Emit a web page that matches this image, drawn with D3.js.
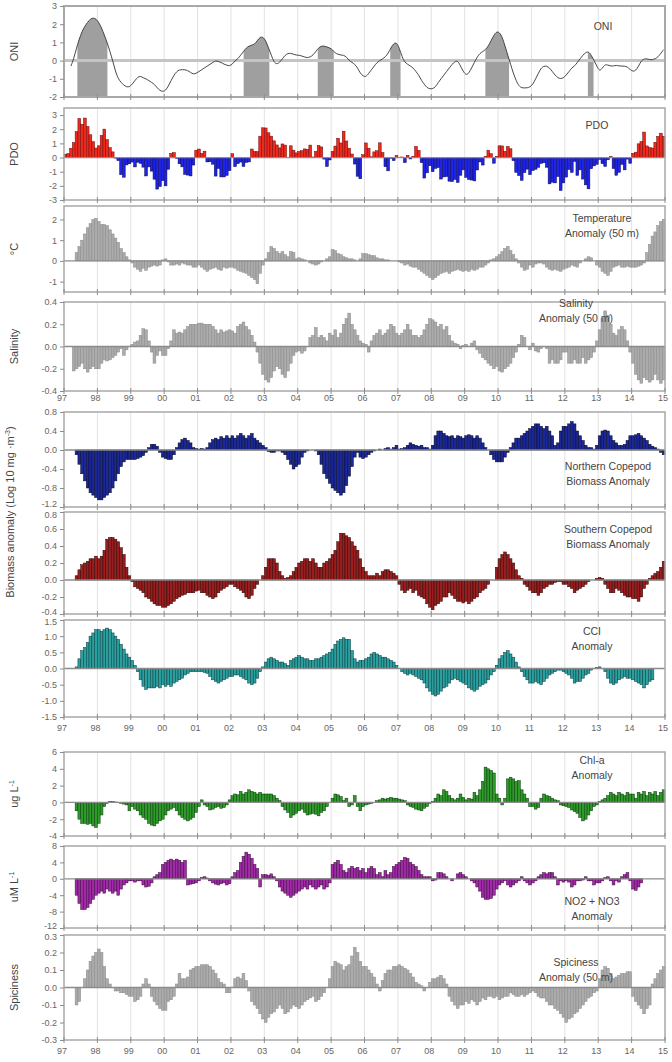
<!DOCTYPE html>
<html>
<head>
<meta charset="utf-8">
<script src="https://cdn.jsdelivr.net/npm/d3@7"></script>
<style>
body { margin: 0; background: #fff; }
svg text { font-family: "Liberation Sans", Arial, sans-serif; fill: #555; }
</style>
</head>
<body>
<div id="chart"></div>
<script>
// monthly values, Jan 1997 .. Dec 2014 (12 per row), null = no sample
var years = d3.range(1997, 2016);

var oniValues = [
  null, null, -0.3, 0.1, 0.7, 1.2, 1.6, 1.9, 2.1, 2.3, 2.35, 2.3,
  2.1, 1.8, 1.4, 1.0, 0.5, 0.0, -0.6, -1.0, -1.2, -1.35, -1.45, -1.45,
  -1.3, -1.1, -0.9, -0.85, -0.95, -1.0, -1.1, -1.2, -1.3, -1.5, -1.65, -1.7,
  -1.65, -1.4, -1.1, -0.8, -0.6, -0.5, -0.5, -0.5, -0.55, -0.65, -0.75, -0.7,
  -0.6, -0.5, -0.4, -0.3, -0.2, -0.1, 0.0, -0.05, -0.1, -0.2, -0.25, -0.3,
  -0.2, 0.0, 0.1, 0.3, 0.5, 0.7, 0.8, 0.85, 0.9, 1.1, 1.3, 1.3,
  1.1, 0.7, 0.3, -0.1, -0.2, -0.1, 0.1, 0.3, 0.4, 0.4, 0.35, 0.3,
  0.3, 0.25, 0.2, 0.15, 0.2, 0.3, 0.5, 0.7, 0.8, 0.8, 0.75, 0.7,
  0.6, 0.4, 0.35, 0.3, 0.3, 0.2, 0.0, -0.1, -0.2, -0.4, -0.7, -0.85,
  -0.9, -0.7, -0.5, -0.3, -0.1, 0.0, 0.1, 0.2, 0.4, 0.7, 0.95, 1.0,
  0.7, 0.2, -0.1, -0.2, -0.3, -0.4, -0.6, -0.8, -1.1, -1.3, -1.5, -1.55,
  -1.55, -1.45, -1.2, -1.0, -0.8, -0.6, -0.4, -0.2, -0.05, 0.0, -0.3, -0.6,
  -0.8, -0.7, -0.4, -0.1, 0.2, 0.4, 0.5, 0.6, 0.8, 1.1, 1.4, 1.6,
  1.55, 1.3, 0.8, 0.3, -0.2, -0.7, -1.1, -1.4, -1.5, -1.5, -1.5, -1.45,
  -1.3, -1.0, -0.7, -0.4, -0.3, -0.3, -0.4, -0.6, -0.8, -0.95, -1.0, -0.95,
  -0.8, -0.6, -0.4, -0.3, -0.1, 0.1, 0.3, 0.45, 0.5, 0.3, 0.0, -0.3,
  -0.6, -0.4, -0.2, -0.25, -0.3, -0.3, -0.25, -0.3, -0.3, -0.3, -0.35, -0.5,
  -0.6, -0.55, -0.3, 0.0, 0.1, 0.1, 0.05, 0.05, 0.1, 0.2, 0.4, 0.6
];

// El Nino periods shaded under the ONI curve
var oniEvents = [[1997.4, 1998.3], [2002.38, 2003.15], [2004.6, 2005.08],
                 [2006.77, 2007.08], [2009.62, 2010.33], [2012.69, 2012.86]];

var pdoValues = [
  0.23, 0.28, 0.65, 1.05, 1.83, 2.76, 2.35, 2.79, 2.19, 1.61, 1.12, 0.67,
  0.83, 1.56, 2.01, 1.27, 0.70, 0.40, -0.04, -0.22, -1.21, -1.39, -0.52, -0.44,
  -0.32, -0.66, -0.33, -0.41, -0.68, -1.30, -0.66, -0.96, -1.53, -2.23, -2.05, -1.63,
  -2.00, -0.83, 0.29, 0.35, -0.05, -0.44, -0.66, -1.19, -1.24, -1.30, -0.53, 0.52,
  0.60, 0.29, 0.45, -0.31, -0.30, -0.47, -1.31, -0.77, -1.37, -1.37, -1.26, -0.93,
  0.27, -0.64, -0.43, -0.32, -0.63, -0.35, -0.31, 0.60, 0.43, 0.42, 1.51, 2.10,
  2.09, 1.75, 1.51, 1.18, 0.89, 0.68, 0.96, 0.88, 0.01, 0.83, 0.52, 0.33,
  0.43, 0.48, 0.61, 0.57, 0.88, 0.04, 0.44, 0.85, 0.75, -0.11, -0.63, -0.17,
  0.44, 0.81, 1.36, 1.03, 1.86, 1.17, 0.66, 0.25, -0.46, -1.32, -1.50, 0.20,
  1.03, 0.66, 0.05, 0.40, 0.48, 1.04, 0.35, -0.65, -0.94, -0.05, -0.22, 0.14,
  0.01, 0.04, -0.36, 0.16, -0.10, 0.09, 0.78, 0.50, -0.36, -1.45, -1.08, -0.58,
  -1.00, -0.77, -0.71, -1.52, -1.37, -1.34, -1.67, -1.70, -1.55, -1.76, -1.25, -0.87,
  -1.40, -1.55, -1.59, -1.65, -0.88, -0.31, -0.53, 0.09, 0.52, 0.27, -0.40, 0.08,
  0.83, 0.82, 0.44, 0.78, 0.62, -0.22, -1.05, -1.27, -1.61, -1.06, -0.82, -1.21,
  -0.92, -0.83, -0.69, -0.42, -0.37, -0.69, -1.86, -1.74, -1.79, -1.34, -2.33, -1.79,
  -1.38, -0.85, -1.05, -0.27, -1.26, -0.87, -1.52, -1.93, -2.21, -0.79, -0.59, -0.48,
  -0.13, -0.43, -0.63, -0.16, 0.08, -0.78, -1.25, -1.04, -0.48, -0.87, -0.11, -0.41,
  0.30, 0.38, 0.97, 1.13, 1.80, 0.82, 0.70, 0.67, 1.08, 1.49, 1.72, 1.50
];

var tempValues = [
  null, null, null, null, 0.4, 0.7, 1.0, 1.3, 1.6, 1.8, 2.0, 2.05,
  1.9, 1.75, 1.75, 1.7, 1.5, 1.3, 1.1, 0.9, 0.6, 0.4, 0.2, 0.05,
  -0.1, -0.3, -0.4, -0.5, -0.35, -0.45, -0.3, -0.25, -0.2, -0.25, -0.2, 0.05,
  0.1, -0.05, -0.2, -0.2, -0.15, -0.2, -0.1, -0.15, -0.2, -0.2, -0.3, -0.3,
  -0.2, -0.3, -0.4, -0.5, -0.4, -0.35, -0.3, -0.4, -0.45, -0.3, -0.35, -0.3,
  -0.3, -0.35, -0.45, -0.5, -0.55, -0.6, -0.7, -0.8, -0.9, -1.1, -0.6, -0.2,
  0.1, 0.4, 0.7, 0.6, 0.45, 0.35, 0.45, 0.3, 0.2, 0.45, 0.4, 0.1,
  0.15, 0.1, 0.05, 0.0, -0.1, -0.15, -0.2, -0.15, -0.05, 0.0, 0.1, 0.2,
  0.55, 0.5, 0.35, 0.3, 0.2, 0.15, 0.1, 0.1, 0.05, 0.0, 0.1, 0.35,
  0.35, 0.3, 0.25, 0.25, 0.15, 0.1, 0.1, 0.05, 0.05, 0.0, 0.0, 0.0,
  -0.05, -0.1, -0.2, -0.15, -0.25, -0.3, -0.3, -0.4, -0.5, -0.6, -0.7, -0.8,
  -0.9, -0.8, -0.7, -0.6, -0.55, -0.5, -0.6, -0.5, -0.45, -0.4, -0.45, -0.5,
  -0.45, -0.5, -0.4, -0.45, -0.4, -0.3, -0.3, -0.2, -0.1, 0.05, 0.1, 0.2,
  0.3, 0.45, 0.6, 0.7, 0.5, 0.3, 0.1, -0.1, -0.3, -0.45, -0.4, -0.2,
  -0.3, -0.15, -0.1, -0.1, -0.15, -0.3, -0.4, -0.45, -0.4, -0.45, -0.5, -0.4,
  -0.35, -0.3, -0.2, -0.25, -0.3, -0.1, 0.0, 0.1, 0.2, 0.15, 0.0, -0.2,
  -0.3, -0.5, -0.6, -0.7, -0.5, -0.3, -0.25, -0.2, -0.3, -0.3, -0.25, -0.3,
  -0.3, -0.3, -0.25, -0.2, -0.1, 0.4, 0.8, 1.2, 1.4, 1.7, 1.9, 2.0
];

var salValues = [
  null, null, null, -0.22, -0.2, -0.18, -0.15, -0.2, -0.23, -0.2, -0.18, -0.2,
  -0.2, -0.15, -0.12, -0.13, -0.12, -0.1, -0.08, -0.05, -0.02, -0.08, -0.03, 0.0,
  0.02, 0.04, 0.05, 0.1, 0.16, 0.15, 0.05, -0.05, -0.15, -0.08, -0.04, -0.08,
  -0.08, -0.02, 0.05, 0.15, 0.12, 0.13, 0.12, 0.15, 0.18, 0.2, 0.2, 0.2,
  0.21, 0.21, 0.2, 0.2, 0.2, 0.18, 0.15, 0.12, 0.15, 0.13, 0.14, 0.15,
  0.14, 0.12, 0.18, 0.2, 0.22, 0.18, 0.15, 0.1, 0.04, -0.05, -0.15, -0.25,
  -0.3, -0.32, -0.28, -0.22, -0.18, -0.2, -0.25, -0.28, -0.22, -0.15, -0.08, -0.05,
  -0.04, -0.06, -0.04, 0.0, 0.08, 0.1, 0.17, 0.08, 0.1, 0.08, 0.05, 0.12,
  0.1, 0.15, 0.08, 0.12, 0.2, 0.25, 0.3, 0.2, 0.15, 0.1, 0.05, 0.03,
  0.02, -0.05, 0.05, 0.1, 0.12, 0.15, 0.1, 0.12, 0.15, 0.2, 0.18, 0.12,
  0.1, 0.12, 0.15, 0.2, 0.15, 0.1, 0.1, 0.08, 0.1, 0.15, 0.2, 0.25,
  0.24, 0.22, 0.18, 0.2, 0.15, 0.18, 0.1, 0.05, 0.03, 0.02, -0.02, 0.01,
  0.02, 0.0, 0.03, 0.05, -0.03, -0.06, -0.1, -0.12, -0.15, -0.17, -0.2, -0.18,
  -0.22, -0.23, -0.2, -0.18, -0.15, -0.1, -0.05, 0.02, 0.1, 0.08, 0.0, -0.03,
  0.03, -0.04, -0.05, -0.02, 0.0, -0.02, -0.15, -0.12, -0.15, -0.15, -0.12, -0.05,
  -0.05, -0.15, -0.15, -0.12, -0.15, -0.15, -0.1, -0.15, -0.12, -0.1, -0.05, 0.05,
  0.15, 0.25, 0.32, 0.28, 0.2, 0.12, 0.1, 0.15, 0.18, 0.15, 0.05, -0.05,
  -0.15, -0.25, -0.3, -0.33, -0.28, -0.3, -0.32, -0.3, -0.25, -0.3, -0.33, -0.3
];

var northValues = [
  null, null, null, null, -0.1, -0.3, -0.5, -0.65, -0.8, -0.9, -0.95, -1.0,
  -1.05, -1.05, -1.0, -0.95, -0.9, -0.8, -0.65, -0.5, -0.35, -0.25, -0.2, -0.2,
  -0.2, -0.2, -0.18, -0.15, -0.12, -0.05, 0.05, 0.12, 0.12, 0.08, -0.05, -0.15,
  -0.18, -0.2, -0.2, -0.1, 0.05, 0.15, 0.22, 0.25, 0.2, 0.15, 0.05, 0.03,
  0.02, 0.03, 0.02, 0.05, 0.15, 0.22, 0.25, 0.22, 0.28, 0.25, 0.3, 0.25,
  0.3, 0.25, 0.3, 0.35, 0.3, 0.25, 0.3, 0.35, 0.25, 0.2, 0.15, 0.1,
  0.05, -0.03, -0.05, -0.05, -0.02, -0.02, -0.05, -0.1, -0.2, -0.3, -0.4, -0.35,
  -0.3, -0.15, -0.05, -0.02, 0.0, 0.0, -0.02, -0.1, -0.3, -0.5, -0.6, -0.7,
  -0.8, -0.85, -0.9, -0.95, -0.9, -0.75, -0.55, -0.35, -0.15, -0.05, -0.15, -0.18,
  -0.15, -0.1, -0.05, -0.02, 0.0, 0.02, 0.0, 0.03, 0.05, 0.02, 0.05, 0.1,
  0.02, 0.03, 0.05, 0.1, 0.15, 0.12, 0.1, 0.08, 0.1, 0.05, 0.05, 0.02,
  0.1, 0.3, 0.4, 0.4, 0.35, 0.3, 0.28, 0.3, 0.25, 0.3, 0.28, 0.25,
  0.3, 0.32, 0.3, 0.25, 0.3, 0.25, 0.15, 0.05, 0.0, -0.1, -0.2, -0.25,
  -0.25, -0.25, -0.15, -0.05, 0.05, 0.15, 0.25, 0.25, 0.3, 0.35, 0.4, 0.45,
  0.5, 0.55, 0.55, 0.5, 0.45, 0.5, 0.4, 0.3, 0.1, 0.15, 0.4, 0.5,
  0.5, 0.55, 0.6, 0.55, 0.4, 0.3, 0.2, 0.1, 0.05, 0.05, 0.02, 0.1,
  0.3, 0.4, 0.42, 0.4, 0.3, 0.2, 0.15, 0.1, 0.1, 0.12, 0.2, 0.3,
  0.3, 0.32, 0.35, 0.3, 0.25, 0.2, 0.12, 0.08, 0.05, 0.02, -0.05, -0.1
];

var southValues = [
  null, null, null, null, 0.05, 0.12, 0.18, 0.2, 0.22, 0.25, 0.25, 0.28,
  0.25, 0.28, 0.35, 0.48, 0.5, 0.5, 0.48, 0.45, 0.38, 0.3, 0.15, 0.05,
  -0.02, -0.08, -0.1, -0.12, -0.15, -0.2, -0.22, -0.25, -0.28, -0.3, -0.3, -0.32,
  -0.32, -0.3, -0.28, -0.25, -0.22, -0.2, -0.18, -0.17, -0.15, -0.15, -0.15, -0.13,
  -0.12, -0.15, -0.15, -0.18, -0.2, -0.22, -0.2, -0.15, -0.12, -0.1, -0.08, -0.05,
  -0.05, -0.08, -0.1, -0.12, -0.15, -0.2, -0.22, -0.18, -0.1, -0.05, 0.0, 0.05,
  0.15, 0.25, 0.25, 0.25, 0.2, 0.1, 0.05, 0.02, 0.03, 0.05, 0.1, 0.15,
  0.2, 0.22, 0.25, 0.25, 0.22, 0.25, 0.2, 0.15, 0.15, 0.2, 0.22, 0.25,
  0.3, 0.35, 0.45, 0.55, 0.55, 0.52, 0.5, 0.45, 0.4, 0.35, 0.25, 0.15,
  0.1, 0.05, 0.05, 0.05, 0.08, 0.05, 0.1, 0.12, 0.12, 0.1, 0.08, 0.05,
  -0.05, -0.12, -0.15, -0.12, -0.1, -0.15, -0.12, -0.18, -0.2, -0.22, -0.28, -0.32,
  -0.35, -0.3, -0.28, -0.25, -0.2, -0.2, -0.15, -0.18, -0.22, -0.25, -0.25, -0.27,
  -0.25, -0.28, -0.25, -0.22, -0.2, -0.15, -0.12, -0.1, -0.05, 0.0, 0.0, 0.15,
  0.25, 0.3, 0.33, 0.3, 0.25, 0.2, 0.12, 0.05, 0.02, -0.05, -0.08, -0.12,
  -0.15, -0.15, -0.18, -0.15, -0.1, -0.08, -0.05, -0.05, -0.03, -0.02, -0.02, -0.05,
  -0.05, -0.08, -0.1, -0.15, -0.12, -0.1, -0.08, -0.05, -0.02, 0.0, 0.0, 0.02,
  0.03, 0.02, -0.05, -0.1, -0.15, -0.15, -0.1, -0.12, -0.15, -0.18, -0.2, -0.2,
  -0.22, -0.22, -0.25, -0.2, -0.1, -0.05, 0.02, 0.05, 0.08, 0.1, 0.15, 0.22
];

var cciValues = [
  null, null, null, null, 0.05, 0.3, 0.55, 0.65, 0.8, 1.0, 1.1, 1.2,
  1.2, 1.15, 1.2, 1.25, 1.2, 1.1, 1.0, 0.9, 0.75, 0.6, 0.45, 0.35,
  0.25, 0.1, -0.1, -0.35, -0.55, -0.65, -0.6, -0.6, -0.6, -0.55, -0.6, -0.5,
  -0.55, -0.5, -0.55, -0.45, -0.4, -0.35, -0.3, -0.2, -0.15, -0.1, -0.1, -0.1,
  -0.1, -0.1, -0.12, -0.15, -0.25, -0.35, -0.4, -0.45, -0.4, -0.35, -0.3, -0.25,
  -0.25, -0.2, -0.2, -0.25, -0.3, -0.35, -0.45, -0.5, -0.45, -0.3, -0.1, 0.05,
  0.2, 0.3, 0.35, 0.3, 0.25, 0.2, 0.2, 0.15, 0.1, 0.25, 0.3, 0.35,
  0.4, 0.35, 0.3, 0.3, 0.25, 0.25, 0.3, 0.3, 0.35, 0.4, 0.45, 0.5,
  0.6, 0.75, 0.85, 0.9, 0.95, 0.9, 0.9, 0.55, 0.3, 0.2, 0.25, 0.25,
  0.3, 0.35, 0.45, 0.5, 0.45, 0.4, 0.35, 0.35, 0.3, 0.25, 0.2, 0.1,
  0.0, -0.1, -0.15, -0.2, -0.15, -0.2, -0.25, -0.3, -0.35, -0.45, -0.6, -0.7,
  -0.8, -0.85, -0.8, -0.7, -0.6, -0.55, -0.45, -0.35, -0.3, -0.35, -0.4, -0.45,
  -0.5, -0.6, -0.65, -0.7, -0.65, -0.55, -0.5, -0.45, -0.35, -0.2, -0.1, 0.1,
  0.3, 0.4, 0.5, 0.55, 0.45, 0.35, 0.2, 0.05, -0.1, -0.25, -0.35, -0.45,
  -0.45, -0.4, -0.45, -0.5, -0.4, -0.3, -0.2, -0.15, -0.1, -0.05, -0.05, -0.1,
  -0.15, -0.2, -0.3, -0.45, -0.4, -0.4, -0.3, -0.2, -0.15, -0.05, 0.0, 0.03,
  0.05, 0.0, -0.1, -0.3, -0.45, -0.5, -0.45, -0.35, -0.3, -0.25, -0.3, -0.3,
  -0.35, -0.4, -0.45, -0.5, -0.6, -0.5, -0.4, -0.35, null, null, null, null
];

var chlValues = [
  null, null, null, null, -1.0, -2.0, -2.5, -2.5, -2.6, -2.5, -2.8, -3.0,
  -2.5, -1.5, -0.5, -0.1, 0.1, 0.1, 0.05, 0.0, -0.1, -0.2, -0.3, -1.0,
  -0.5, -0.8, -1.0, -1.5, -1.8, -2.0, -2.5, -2.7, -2.8, -2.5, -2.2, -2.0,
  -1.5, -1.0, -0.8, -0.6, -1.0, -1.5, -1.8, -2.0, -2.2, -2.0, -1.8, -1.2,
  -0.5, 0.3, -0.3, -0.5, -0.9, -0.8, -0.6, -0.5, -0.7, -0.6, -0.3, 0.3,
  0.8, 1.0, 0.9, 1.3, 1.0, 1.2, 1.5, 1.3, 1.2, 1.0, 1.2, 1.0,
  1.0, 1.0, 1.0, 0.8, 0.5, 0.2, -0.5, -0.9, -1.2, -1.8, -1.5, -1.3,
  -1.0, -0.8, -1.2, -1.5, -1.4, -1.3, -1.4, -1.6, -1.2, -1.0, -0.5, 0.0,
  0.5, 1.0, 0.9, 0.7, 0.2, 0.5, -0.5, -0.3, 0.8, -0.5, -1.0, -0.5,
  -0.3, -0.2, -0.1, 0.0, 0.2, 0.3, 0.5, 0.4, 0.5, 0.6, 0.5, 0.5,
  0.4, 0.3, 0.2, -0.3, -0.5, -0.6, -0.8, -0.9, -1.0, -0.7, -0.5, -0.1,
  0.1, 0.5, 1.0, 0.8, 1.5, 1.3, 0.8, 0.5, 0.3, 0.5, 1.0, 0.6,
  0.3, 0.5, 0.4, 1.2, 0.8, 1.5, 2.5, 4.2, 4.0, 3.8, 3.5, 1.0,
  0.5, -0.3, 0.5, 2.8, 3.0, 2.8, 2.5, 2.6, 1.5, 1.0, 0.5, -0.5,
  -0.5, -0.8, -0.6, 0.5, 1.0, 0.8, 0.7, 0.5, 0.3, 0.2, -0.3, -0.4,
  -0.5, -0.6, -0.9, -1.1, -1.3, -1.8, -2.2, -2.0, -1.5, -1.0, -0.5, -0.3,
  0.1, 0.3, 0.5, 0.8, 1.2, 1.0, 0.8, 1.2, 1.0, 0.8, 1.2, 1.0,
  1.0, 0.5, 1.2, 1.0, 1.3, 0.8, 1.2, 1.0, 1.3, 0.8, 1.2, 1.5
];

var no3Values = [
  null, null, null, null, -4.0, -6.0, -7.5, -7.5, -7.0, -6.0, -5.0, -4.0,
  -3.5, -3.0, -3.5, -2.5, -3.0, -3.5, -3.0, -4.0, -2.5, -1.5, -1.0, -0.5,
  -0.5, -0.8, -0.5, -0.5, -1.5, -2.0, -1.8, -1.0, 0.5, 1.0, 1.5, 3.5,
  4.0, 4.5, 4.8, 4.5, 4.8, 4.5, 4.0, 4.5, -1.5, -1.3, -1.2, -1.0,
  -0.5, 0.3, 0.5, 0.2, -0.5, -1.0, -1.3, -1.5, -1.2, -1.0, -1.5, -1.2,
  0.5, 1.5, 2.0, 4.0, 5.5, 6.5, 6.0, 5.0, 3.5, 2.5, -2.0, 1.0,
  1.0, 0.8, 1.2, 0.5, -0.5, -2.0, -3.0, -3.5, -4.0, -4.5, -4.0, -3.5,
  -3.0, -2.5, -2.0, -2.5, -1.5, -2.0, -2.5, -2.0, -1.5, -2.5, -2.0, -1.0,
  3.5, 4.0, 4.5, 3.5, 2.0, 1.5, 2.5, 3.0, 2.5, 2.8, 2.0, 2.5,
  1.5, 2.5, 3.0, 2.5, 1.0, 1.5, 0.5, 2.0, 1.0, 1.5, 3.0, 3.5,
  4.0, 4.5, 5.2, 5.0, 4.0, 3.5, 3.0, 2.0, 1.0, 0.5, 0.5, 0.5,
  -0.5, -0.3, 1.5, 1.5, 1.2, 0.5, 0.0, -0.5, 0.0, 1.2, 1.5, 1.0,
  0.5, 0.0, -0.5, -1.0, -2.0, -3.0, -4.5, -5.0, -5.0, -4.8, -4.0, -2.5,
  -1.5, -1.0, -0.5, -1.5, -2.0, -1.5, -1.0, -0.5, 0.5, -0.5, -1.0, -1.5,
  -1.0, -0.5, 0.5, 1.0, 1.5, 1.2, 1.5, 1.5, 0.5, -1.5, -0.5, -0.8,
  -0.5, -0.8, -2.0, -1.5, -0.5, -0.5, -0.3, 0.5, -0.5, -0.5, -1.5, -1.0,
  -1.0, -0.5, 0.3, 0.5, -0.5, -1.5, -0.5, -0.8, 0.5, 1.0, 1.5, -0.5,
  -2.5, -2.8, -2.0, -1.0, null, null, null, null, null, null, null, null
];

var spiceValues = [
  null, null, null, null, -0.1, -0.08, 0.0, 0.05, 0.1, 0.15, 0.18, 0.2,
  0.22, 0.2, 0.12, 0.05, 0.02, 0.0, -0.02, -0.02, -0.03, -0.03, -0.04, -0.05,
  -0.05, -0.08, -0.07, -0.05, 0.02, 0.05, 0.02, -0.05, -0.08, -0.1, -0.12, -0.13,
  -0.13, -0.08, -0.07, -0.05, 0.02, 0.08, 0.05, 0.05, 0.06, 0.1, 0.11, 0.12,
  0.12, 0.13, 0.13, 0.13, 0.12, 0.1, 0.08, 0.05, 0.03, 0.02, -0.03, -0.03,
  0.0, 0.05, 0.06, 0.05, 0.08, 0.04, -0.02, -0.08, -0.1, -0.12, -0.15, -0.18,
  -0.2, -0.17, -0.15, -0.14, -0.12, -0.1, -0.12, -0.15, -0.14, -0.12, -0.1, -0.11,
  -0.12, -0.1, -0.08, -0.07, -0.06, -0.05, -0.08, -0.07, -0.05, -0.03, 0.0, 0.05,
  0.12, 0.15, 0.14, 0.13, 0.1, 0.12, 0.13, 0.18, 0.23, 0.2, 0.15, 0.12,
  0.12, 0.1, 0.08, 0.06, 0.02, -0.02, 0.04, 0.08, 0.1, 0.1, 0.12, 0.12,
  0.13, 0.12, 0.11, 0.1, 0.08, 0.06, 0.03, 0.02, 0.01, -0.02, 0.0, 0.03,
  0.05, 0.05, 0.06, 0.07, 0.05, 0.02, -0.05, -0.08, -0.1, -0.12, -0.1, -0.1,
  -0.08, -0.09, -0.07, -0.08, -0.1, -0.08, -0.06, -0.07, -0.05, -0.05, -0.06, -0.05,
  -0.07, -0.06, -0.05, -0.05, -0.03, -0.04, -0.05, -0.05, -0.04, -0.05, -0.04, -0.03,
  -0.02, -0.03, -0.05, -0.06, -0.06, -0.08, -0.1, -0.1, -0.12, -0.13, -0.15, -0.17,
  -0.2, -0.18, -0.17, -0.15, -0.14, -0.12, -0.1, -0.08, -0.06, -0.05, -0.03, -0.02,
  0.05, 0.1, 0.12, 0.11, 0.08, 0.05, 0.06, 0.07, 0.08, 0.08, 0.09, 0.09,
  -0.05, -0.08, -0.1, -0.12, -0.15, -0.12, -0.1, 0.02, 0.05, 0.08, 0.1, 0.12
];

var svgWidth = 672;
var svgHeight = 1062;
var xLeft = 64, xRight = 665;

var svg = d3.select('#chart').append('svg')
    .attr('width', svgWidth)
    .attr('height', svgHeight);

var x = d3.scaleLinear().domain([1997, 2015]).range([xLeft, xRight]);
var monthW = x(1997 + 1 / 12) - x(1997);

// panel layout and style (topShift / botShift nudge the end tick labels apart)
var panels = [
  {values: oniValues, kind: 'line', top: 6, bottom: 97, domain: [-2, 3], step: 1, dec: 0,
   title: ['ONI'], tx: 603, ty: 30, ylab: 'ONI'},
  {values: pdoValues, kind: 'bar', top: 108, bottom: 200, domain: [-3, 3.5], tickMax: 3, step: 1, dec: 0,
   pos: '#ee2a1e', neg: '#1f24e6', stroke: '#6a0a0a', negStroke: '#0a0a5a',
   title: ['PDO'], tx: 597, ty: 129, ylab: 'PDO'},
  {values: tempValues, kind: 'bar', top: 206, bottom: 292, domain: [-1.5, 2.65], tickMin: -1, tickMax: 2, step: 1, dec: 0,
   pos: '#ababab', neg: '#ababab', stroke: '#8a8a8a',
   title: ['Temperature', 'Anomaly (50 m)'], tx: 602, ty: 222, ylab: '\u00b0C'},
  {values: salValues, kind: 'bar', top: 302, bottom: 391, domain: [-0.4, 0.4], step: 0.2, dec: 1,
   pos: '#ababab', neg: '#ababab', stroke: '#8a8a8a',
   title: ['Salinity', 'Anomaly (50 m)'], tx: 576, ty: 307, ylab: 'Salinity'},
  {values: northValues, kind: 'bar', top: 412, bottom: 507, domain: [-1.2, 0.8], step: 0.4, dec: 1,
   pos: '#1c2896', neg: '#1c2896', stroke: '#05082a', botShift: -3,
   title: ['Northern Copepod', 'Biomass Anomaly'], tx: 608, ty: 470},
  {values: southValues, kind: 'bar', top: 512, bottom: 614, domain: [-0.4, 0.8], step: 0.2, dec: 1,
   pos: '#9a1e1e', neg: '#9a1e1e', stroke: '#2a0505', topShift: 3, botShift: -2,
   title: ['Southern Copepod', 'Biomass Anomaly'], tx: 608, ty: 533},
  {values: cciValues, kind: 'bar', top: 620, bottom: 717, domain: [-1.5, 1.5], step: 0.5, dec: 1,
   pos: '#2a9fa0', neg: '#2a9fa0', stroke: '#0a3a3a', topShift: 2,
   title: ['CCI', 'Anomaly'], tx: 592, ty: 635},
  {values: chlValues, kind: 'bar', top: 752, bottom: 836, domain: [-4, 6], step: 2, dec: 0,
   pos: '#2e9a2a', neg: '#2e9a2a', stroke: '#0a3a0a',
   title: ['Chl-a', 'Anomaly'], tx: 592, ty: 764, ylab: 'ug L', sup: '-1'},
  {values: no3Values, kind: 'bar', top: 846, bottom: 928, domain: [-12, 8], step: 4, dec: 0,
   pos: '#a02aa8', neg: '#a02aa8', stroke: '#3a0a3a', botShift: -2,
   title: ['NO2 + NO3', 'Anomaly'], tx: 592, ty: 905, ylab: 'uM L', sup: '-1'},
  {values: spiceValues, kind: 'bar', top: 935, bottom: 1040, domain: [-0.3, 0.3], step: 0.1, dec: 1,
   pos: '#ababab', neg: '#ababab', stroke: '#8a8a8a', topShift: 2,
   title: ['Spiciness', 'Anomaly (50 m)'], tx: 576, ty: 966, ylab: 'Spiciness'}
];

// rows of year labels
var yearLabelRows = [401, 731, 1054];

function fmtTick(v, dec) {
  if (Math.abs(v) < 1e-9) v = 0;
  return v.toFixed(dec);
}

panels.forEach(function (p) {
  var y = d3.scaleLinear().domain(p.domain).range([p.bottom, p.top]);
  var g = svg.append('g');

  // vertical year gridlines
  g.selectAll('line.grid')
    .data(years.slice(1, -1))
    .enter()
    .append('line')
    .attr('x1', d => x(d)).attr('x2', d => x(d))
    .attr('y1', p.top).attr('y2', p.bottom)
    .attr('stroke', '#e2e2e2')
    .attr('stroke-width', 1);

  var pts = p.values.map(function (v, i) {
    return {t: 1997 + i / 12, v: v};
  }).filter(d => d.v !== null);

  if (p.kind === 'bar') {
    g.selectAll('rect.bar')
      .data(pts)
      .enter()
      .append('rect')
      .attr('x', d => x(d.t))
      .attr('width', monthW)
      .attr('y', d => y(Math.max(0, d.v)))
      .attr('height', d => Math.abs(y(d.v) - y(0)))
      .attr('fill', d => d.v >= 0 ? p.pos : p.neg)
      .attr('stroke', d => (d.v < 0 && p.negStroke) ? p.negStroke : p.stroke)
      .attr('stroke-width', 0.5);
  } else {
    var linePts = pts.map(d => ({t: d.t + 1 / 24, v: d.v}));
    var area = d3.area()
      .x(d => x(d.t))
      .y0(p.bottom)
      .y1(d => y(d.v))
      .curve(d3.curveBasis);
    var clip = svg.append('clipPath').attr('id', 'oniclip');
    clip.selectAll('rect')
      .data(oniEvents)
      .enter()
      .append('rect')
      .attr('x', d => x(d[0]))
      .attr('width', d => x(d[1]) - x(d[0]))
      .attr('y', p.top)
      .attr('height', p.bottom - p.top);
    g.append('path')
      .datum(linePts)
      .attr('d', area)
      .attr('fill', '#9f9f9f')
      .attr('clip-path', 'url(#oniclip)');
  }

  // zero line
  g.append('line')
    .attr('x1', xLeft).attr('x2', xRight)
    .attr('y1', y(0)).attr('y2', y(0))
    .attr('stroke', p.kind === 'line' ? '#c4c4c4' : '#8c8c8c')
    .attr('stroke-width', p.kind === 'line' ? 3 : 1.3);

  if (p.kind === 'line') {
    var line = d3.line()
      .x(d => x(d.t))
      .y(d => y(d.v))
      .curve(d3.curveBasis);
    g.append('path')
      .datum(pts.map(d => ({t: d.t + 1 / 24, v: d.v})))
      .attr('d', line)
      .attr('fill', 'none')
      .attr('stroke', '#333')
      .attr('stroke-width', 0.9);
  }

  // frame
  g.append('rect')
    .attr('x', xLeft).attr('y', p.top)
    .attr('width', xRight - xLeft).attr('height', p.bottom - p.top)
    .attr('fill', 'none')
    .attr('stroke', '#a8a8a8')
    .attr('stroke-width', p.kind === 'line' ? 2 : 1.5);

  // year ticks on the bottom edge
  g.selectAll('line.xt')
    .data(years)
    .enter()
    .append('line')
    .attr('x1', d => x(d)).attr('x2', d => x(d))
    .attr('y1', p.bottom - 3).attr('y2', p.bottom + 3)
    .attr('stroke', '#8c8c8c');

  // y axis
  var tMin = p.tickMin !== undefined ? p.tickMin : p.domain[0];
  var tMax = p.tickMax !== undefined ? p.tickMax : p.domain[1];
  var yTicks = d3.range(tMin, tMax + p.step / 2, p.step);
  var yAxis = d3.axisLeft(y)
    .tickValues(yTicks)
    .tickSize(4)
    .tickPadding(3)
    .tickFormat(d => fmtTick(d, p.dec));
  var ag = g.append('g')
    .attr('transform', `translate(${xLeft}, 0)`)
    .call(yAxis);
  ag.select('.domain').remove();
  ag.selectAll('line').attr('stroke', '#8c8c8c');
  ag.selectAll('text')
    .style('font-size', '9px')
    .style('fill', '#666')
    .attr('y', function (d, i) {
      if (i === 0 && p.botShift) return p.botShift;
      if (i === yTicks.length - 1 && p.topShift) return p.topShift;
      return 0;
    });

  // label in panel
  var tt = g.append('text')
    .attr('text-anchor', 'middle')
    .style('font-size', '10.5px')
    .style('fill', '#444');
  p.title.forEach(function (s, i) {
    tt.append('tspan').attr('x', p.tx).attr('y', p.ty + i * 15).text(s);
  });

  // y axis title
  if (p.ylab) {
    var yt = svg.append('text')
      .attr('transform', `translate(18, ${(p.top + p.bottom) / 2}) rotate(-90)`)
      .attr('text-anchor', 'middle')
      .style('font-size', '11px')
      .style('fill', '#444')
      .text(p.ylab);
    if (p.sup) {
      yt.append('tspan').attr('dy', -4).style('font-size', '7px').text(p.sup);
    }
  }
});

// shared copepod y title
var bt = svg.append('text')
  .attr('transform', 'translate(14, 512) rotate(-90)')
  .attr('text-anchor', 'middle')
  .style('font-size', '11px')
  .style('fill', '#444')
  .text('Biomass anomaly (Log 10 mg \u00b7m');
bt.append('tspan').attr('dy', -4).style('font-size', '7px').text('-3');
bt.append('tspan').attr('dy', 4).text(')');

// year labels
yearLabelRows.forEach(function (ry) {
  svg.append('g').selectAll('text')
    .data(years)
    .enter()
    .append('text')
    .attr('x', d => x(d) - 2)
    .attr('y', ry)
    .attr('text-anchor', 'middle')
    .style('font-size', '9px')
    .style('fill', '#666')
    .text(d => String(d % 100).padStart(2, '0'));
});
</script>
</body>
</html>
